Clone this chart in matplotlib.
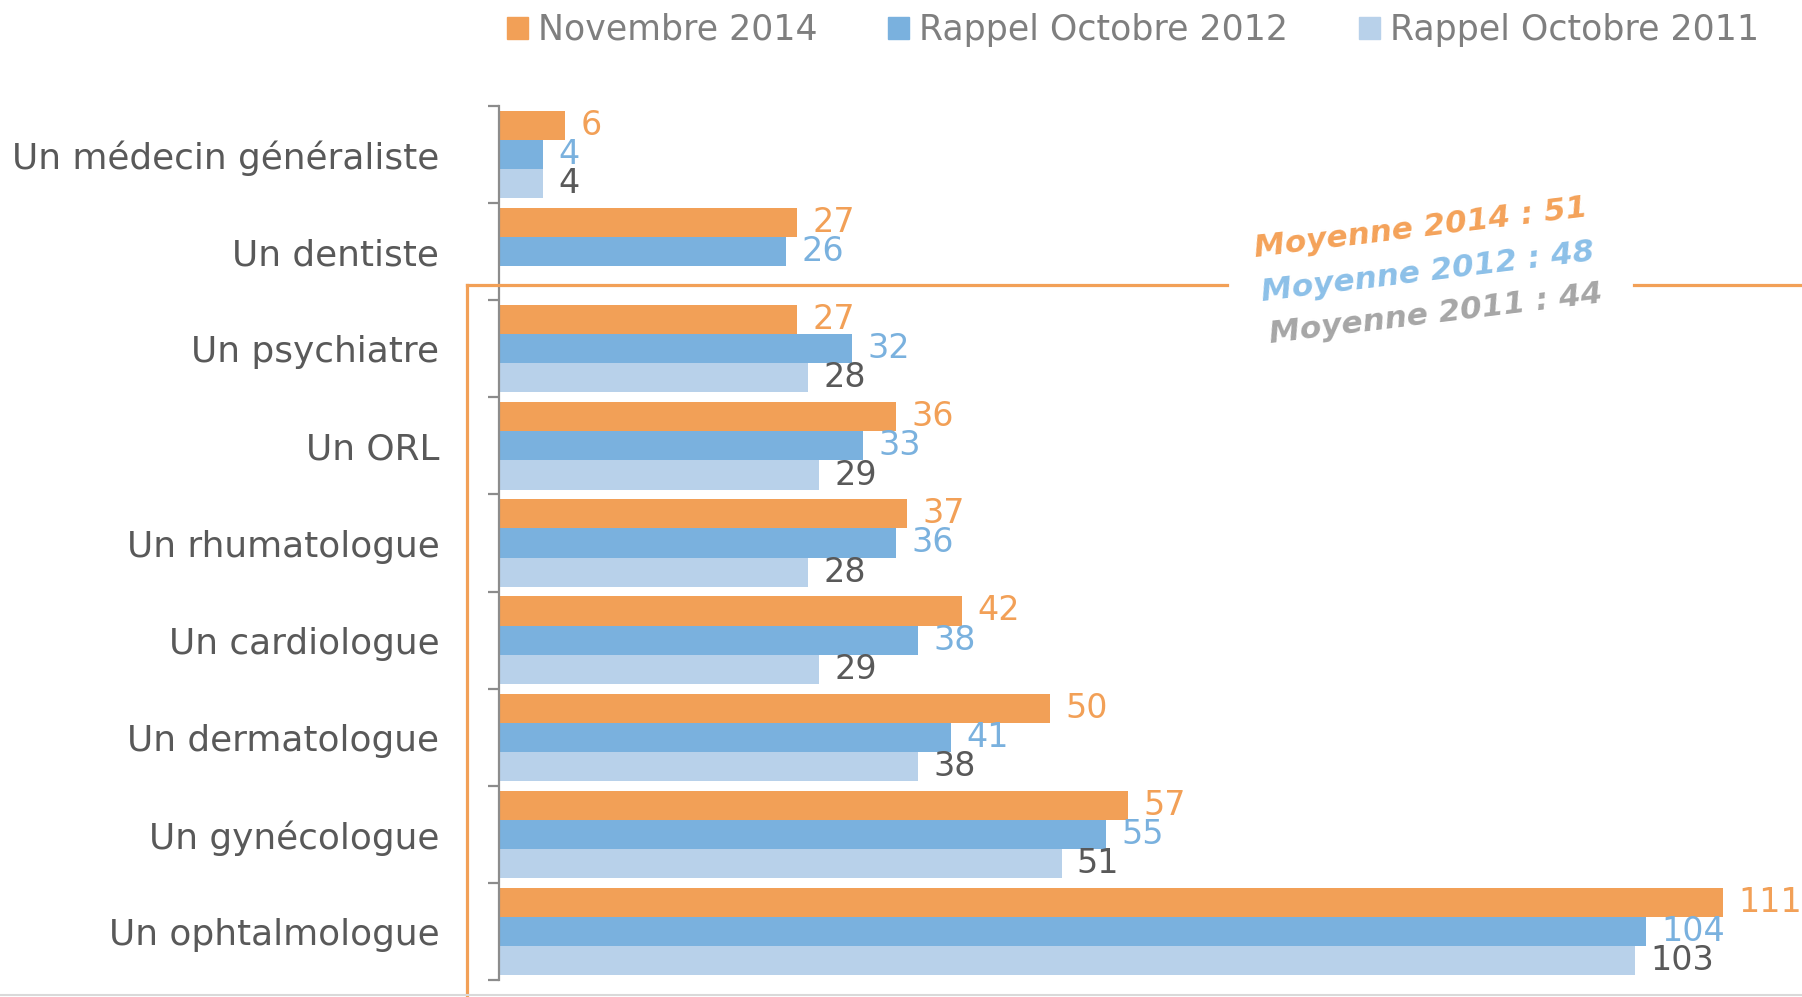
import numpy as np
import matplotlib
matplotlib.use('Agg')
from matplotlib import pyplot as plt
from matplotlib.patches import Patch
from matplotlib.lines import Line2D

# Données
categories = ["Un médecin généraliste", "Un dentiste", "Un psychiatre", "Un ORL",
              "Un rhumatologue", "Un cardiologue", "Un dermatologue",
              "Un gynécologue", "Un ophtalmologue"]
series = ["Novembre 2014", "Rappel Octobre 2012", "Rappel Octobre 2011"]
v2014 = [6, 27, 27, 36, 37, 42, 50, 57, 111]
v2012 = [4, 26, 32, 33, 36, 38, 41, 55, 104]
v2011 = [4, np.nan, 28, 29, 28, 29, 38, 51, 103]
moyennes = ["Moyenne 2014 : 51", "Moyenne 2012 : 48", "Moyenne 2011 : 44"]

bar_colors = ['#F2A057', '#7AB1DE', '#B8D1EA']
label_colors = ['#F2A057', '#7AB1DE', '#595959']
moy_colors = ['#F4A259', '#8CC0E8', '#A6A6A6']

plt.rcParams['font.family'] = ['DejaVu Sans']

fig = plt.figure(figsize=(18.02, 9.97), dpi=100)
ax = fig.add_axes([499 / 1802, 1 - 980 / 997, 1 - 499 / 1802, (980 - 106) / 997])

y = np.arange(len(categories))
h = 0.3
for k, vals in enumerate([v2014, v2012, v2011]):
    pos = y + (k - 1) * h
    ax.barh(pos, vals, height=h, color=bar_colors[k], label=series[k])
    for p, v in zip(pos, vals):
        if np.isnan(v):
            continue
        ax.annotate(str(int(v)), (v, p), xytext=(11, 0), textcoords='offset points',
                    ha='left', va='center', fontsize=24, color=label_colors[k],
                    annotation_clip=False)

ax.set_xlim(0, (1802 - 499) / 11.03)
ax.set_ylim(len(categories) - 0.5, -0.5)
ax.set_yticks(y)
ax.set_yticklabels(categories, fontsize=25.8, color='#595959')
ax.set_yticks(np.arange(len(categories) + 1) - 0.5, minor=True)
ax.tick_params(axis='y', which='major', length=0, pad=43)
ax.tick_params(axis='y', which='minor', length=8, width=1.6, color='#8c8c8c', direction='out')
ax.set_xticks([])
for s in ['top', 'right', 'bottom']:
    ax.spines[s].set_visible(False)
ax.spines['left'].set_color('#8c8c8c')
ax.spines['left'].set_linewidth(1.6)

# Légende
handles = [Patch(color=c) for c in bar_colors]
leg = fig.legend(handles, series, loc='center', bbox_to_anchor=((502 + 1764) / 2 / 1802, 1 - 30 / 997),
                 ncol=3, frameon=False, fontsize=25, handlelength=0.6, handleheight=0.6,
                 handletextpad=0.3, columnspacing=2.03)
for t in leg.get_texts():
    t.set_color('#7f7f7f')

# Cadre orange
oc = '#F2A057'
yl = 1 - 285 / 997
xv = 467 / 1802
fig.add_artist(Line2D([xv, xv], [0, yl], transform=fig.transFigure, color=oc, lw=2.3))
fig.add_artist(Line2D([xv, 1227 / 1802], [yl, yl], transform=fig.transFigure, color=oc, lw=2.3))
fig.add_artist(Line2D([1634 / 1802, 1.0], [yl, yl], transform=fig.transFigure, color=oc, lw=2.3))
fig.add_artist(Line2D([0, 1], [0.002, 0.002], transform=fig.transFigure, color='#d9d9d9', lw=1.5))

# Moyennes
moy_pos = [(1421, 228), (1428, 272), (1436, 314)]
for txt, c, (px, py) in zip(moyennes, moy_colors, moy_pos):
    fig.text(px / 1802, 1 - py / 997, txt, color=c, fontsize=22.5, fontweight='bold',
             fontstyle='italic', rotation=7, ha='center', va='center', rotation_mode='anchor')

fig.savefig('out.png', dpi=100)
